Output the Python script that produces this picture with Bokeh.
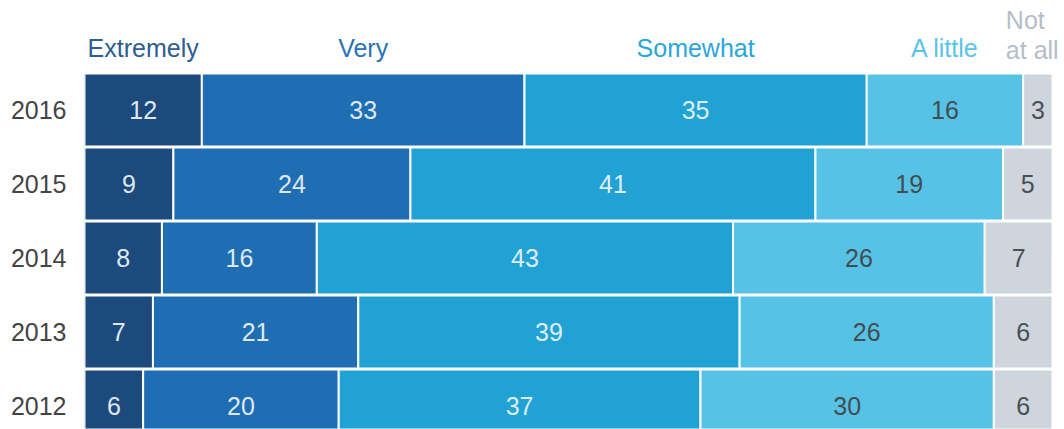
from bokeh.plotting import figure
from bokeh.models import ColumnDataSource, FixedTicker, Range1d
from bokeh.core.properties import value
from bokeh.embed import file_html
from bokeh.resources import INLINE

# ---- data ----
years = ["2016", "2015", "2014", "2013", "2012"]
categories = ["Extremely", "Very", "Somewhat", "A little", "Not at all"]
header_labels = ["Extremely", "Very", "Somewhat", "A little", "Not\nat all"]
extremely = [12, 9, 8, 7, 6]
very = [33, 24, 16, 21, 20]
somewhat = [35, 41, 43, 39, 37]
a_little = [16, 19, 26, 26, 30]
not_at_all = [3, 5, 7, 6, 6]
series = [extremely, very, somewhat, a_little, not_at_all]

# ---- styles ----
bar_colors = ["#1c4a7c", "#1f6db3", "#20a2d5", "#56c3e6", "#cfd5dc"]
head_colors = ["#2d5d91", "#2a72b5", "#2aa6d9", "#5bc3e8", "#b5bdc6"]
num_colors = ["#dfe8f1", "#dfe8f1", "#dfeef6", "#454b52", "#4a4f55"]
FONT = "Liberation Sans"
FS = "25px"

ypos = {y: 4 - i for i, y in enumerate(years)}

rows = dict(y=[], left=[], right=[], mid=[], color=[], label=[], tcolor=[])
for i, yr in enumerate(years):
    vals = [s[i] for s in series]
    total = sum(vals)
    cum = 0.0
    for k, v in enumerate(vals):
        l = cum / total * 100
        cum += v
        r = cum / total * 100
        rows["y"].append(ypos[yr])
        rows["left"].append(l)
        rows["right"].append(r)
        rows["mid"].append((l + r) / 2)
        rows["color"].append(bar_colors[k])
        rows["label"].append(str(v))
        rows["tcolor"].append(num_colors[k])
src = ColumnDataSource(rows)

# header positions: centred on the 2016 segments
top = [s[0] for s in series]
ttot = sum(top)
hx, c = [], 0
for v in top:
    hx.append((c + v / 2) / ttot * 100)
    c += v

W, H = 1064, 429
p = figure(width=W, height=H, output_backend="svg", toolbar_location=None,
           x_range=Range1d(0, 100 * 980 / 968), y_range=Range1d(-0.318, 5.480),
           min_border_left=84, min_border_right=0, min_border_top=0, min_border_bottom=0)
p.xaxis.visible = False
p.xgrid.visible = False
p.ygrid.visible = False
p.outline_line_color = None
p.background_fill_color = "white"
p.border_fill_color = "white"

p.hbar(y="y", left="left", right="right", height=0.985, fill_color="color",
       line_color="white", line_width=2, source=src)
p.text(x="mid", y="y", text="label", text_color="tcolor", text_align="center",
       text_baseline="middle", text_font=value(FONT), text_font_size=FS, source=src)

hsrc = ColumnDataSource(dict(x=hx[:4], y=[4.844] * 4, t=header_labels[:4], c=head_colors[:4]))
p.text(x="x", y="y", text="t", text_color="c", text_align="center", text_baseline="alphabetic",
       text_font=value(FONT), text_font_size=FS, source=hsrc)
nsrc = ColumnDataSource(dict(x=[hx[4]], y=[4.615], t=[header_labels[4]], c=[head_colors[4]]))
p.text(x="x", y="y", text="t", text_color="c", text_align="left", text_baseline="bottom",
       x_offset=-32, text_font=value(FONT), text_font_size=FS, text_line_height=1.1,
       source=nsrc)

yax = p.yaxis[0]
yax.ticker = FixedTicker(ticks=[ypos[y] for y in years])
yax.major_label_overrides = {ypos[y]: y for y in years}
yax.axis_line_color = None
yax.major_tick_line_color = None
yax.minor_tick_line_color = None
yax.major_label_standoff = 12
yax.major_label_text_font = FONT
yax.major_label_text_font_size = FS
yax.major_label_text_color = "#444444"

open("out.html", "w").write(file_html(p, INLINE))
